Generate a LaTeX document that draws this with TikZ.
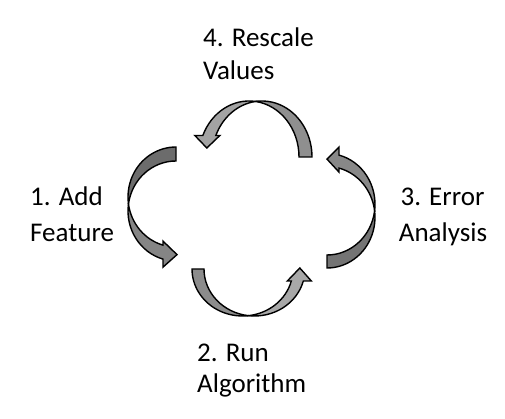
\documentclass[tikz,border=0pt]{standalone}
\usepackage{fontspec}
\setmainfont{Carlito}
\definecolor{lback}{HTML}{6C6C6C}
\definecolor{lfront}{HTML}{858585}
\definecolor{bback}{HTML}{8C8C8C}
\definecolor{bfront}{HTML}{A8A8A8}
\definecolor{rback}{HTML}{747474}
\definecolor{rfront}{HTML}{888888}
\definecolor{tback}{HTML}{8F8F8F}
\definecolor{tfront}{HTML}{A3A3A3}
\tikzset{
  arrowline/.style={draw=black, line width=1.4pt, line join=miter},
  label/.style={inner sep=0pt, font=\fontsize{27}{33}\selectfont},
}
% #1 depth, #2 half sweep, #3 thickness, #4 shaft end x, #5 tip x, #6 back colour, #7 front colour
\newcommand\cyclearrow[7]{%
  \pgfmathsetmacro\ca{asin(#3/(2*#2))}%
  \pgfmathsetmacro\cone{180+\ca}%
  \pgfmathsetmacro\ctwo{180-\ca}%
  \pgfmathsetmacro\cend{360-acos(#4/#1)}%
  \pgfmathsetmacro\pin{#3/2+#2*sin(\cend)}%
  \pgfmathsetmacro\pout{-#3/2+#2*sin(\cend)}%
  \pgfmathsetmacro\tipy{(\pin+\pout)/2-2.5}%
  \pgfmathsetmacro\hth{#3/2}%
  \pgfmathsetmacro\crx{-#1*cos(\ca)}%
  \filldraw[arrowline, fill=#6] (0,{\hth+#2})
     arc[start angle=90, end angle=\cone, x radius=#1, y radius=#2]
     arc[start angle=\ctwo, end angle=90, x radius=#1, y radius=#2] -- cycle;
  \filldraw[arrowline, fill=#7] (\crx,0)
     arc[start angle=\ctwo, end angle=\cend, x radius=#1, y radius=#2]
     -- (#4,{\pout-8}) -- (#5,\tipy) -- (#4,{\pin+4}) -- (#4,\pin)
     arc[start angle=\cend, end angle=\cone, x radius=#1, y radius=#2] -- cycle;
}
\begin{document}
\begin{tikzpicture}[x=1pt,y=1pt]
\useasboundingbox (0,0) rectangle (505,419);
% 1. Add Feature arrow (left)
\begin{scope}[shift={(176,215)}]
  \cyclearrow{48}{50}{14}{-13}{1}{lback}{lfront}
\end{scope}
% 2. Run Algorithm arrow (bottom)
\begin{scope}[shift={(248.5,150)}, rotate=90]
  \cyclearrow{47}{50.5}{12}{-12}{1}{bback}{bfront}
\end{scope}
% 3. Error Analysis arrow (right)
\begin{scope}[shift={(327,208.25)}, rotate=180]
  \cyclearrow{48}{50.75}{13}{-12}{0}{rback}{rfront}
\end{scope}
% 4. Rescale Values arrow (top)
\begin{scope}[shift={(255.5,262)}, rotate=-90]
  \cyclearrow{56}{50}{13}{-21.5}{-9}{tback}{tfront}
\end{scope}
% labels
\node[label, anchor=base west] (t4a) at (203,372.3) {4. Rescale};
\node[label, anchor=base west] (t4b) at (203,339) {Values};
\node[label, anchor=base west] (t1a) at (30,213.3) {1. Add};
\node[label, anchor=base west] (t1b) at (30,177.3) {Feature};
\node[label, anchor=base] (t3a) at (442.5,213) {3. Error};
\node[label, anchor=base] (t3b) at (443,177.3) {Analysis};
\node[label, anchor=base west] (t2a) at (197,57.3) {2. Run};
\node[label, anchor=base west] (t2b) at (197,26) {Algorithm};
\end{tikzpicture}
\end{document}
